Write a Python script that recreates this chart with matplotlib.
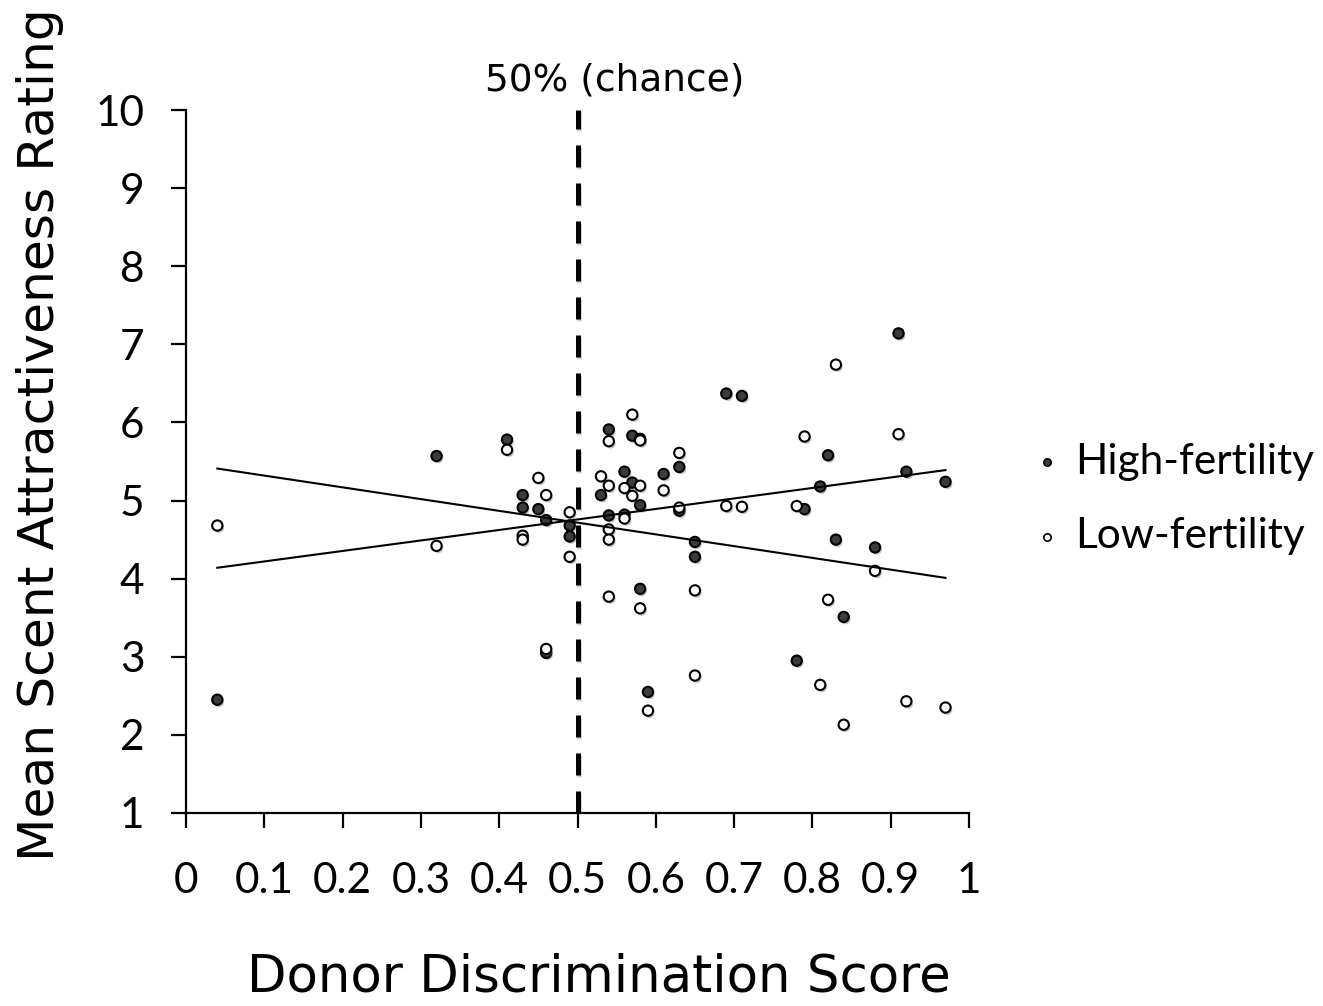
import matplotlib
matplotlib.use("Agg")
import matplotlib.pyplot as plt
import matplotlib.patheffects as pe
import numpy as np

# Donor discrimination score (x) and mean scent attractiveness rating (y)
high_x = [0.04, 0.32, 0.41, 0.43, 0.43, 0.45, 0.46, 0.46, 0.49, 0.49,
          0.53, 0.54, 0.54, 0.57, 0.58, 0.56, 0.57, 0.58, 0.56, 0.61,
          0.63, 0.63, 0.65, 0.65, 0.58, 0.59, 0.91, 0.69, 0.71, 0.82,
          0.92, 0.97, 0.81, 0.79, 0.83, 0.88, 0.84, 0.78]
high_y = [2.45, 5.57, 5.78, 5.07, 4.91, 4.89, 4.75, 3.05, 4.68, 4.54,
          5.07, 5.91, 4.81, 5.83, 5.79, 5.37, 5.23, 4.94, 4.82, 5.34,
          5.43, 4.87, 4.47, 4.28, 3.87, 2.55, 7.14, 6.37, 6.34, 5.58,
          5.37, 5.24, 5.18, 4.89, 4.50, 4.40, 3.51, 2.95]

low_x = [0.04, 0.32, 0.41, 0.45, 0.46, 0.43, 0.43, 0.46, 0.49, 0.49,
         0.53, 0.54, 0.54, 0.54, 0.54, 0.54, 0.57, 0.58, 0.56, 0.58,
         0.57, 0.56, 0.61, 0.63, 0.63, 0.65, 0.65, 0.58, 0.59, 0.83,
         0.79, 0.91, 0.69, 0.71, 0.78, 0.88, 0.82, 0.81, 0.92, 0.97, 0.84]
low_y = [4.68, 4.42, 5.65, 5.29, 5.07, 4.55, 4.50, 3.10, 4.85, 4.28,
         5.31, 5.76, 5.19, 4.63, 4.50, 3.77, 6.10, 5.77, 5.16, 5.19,
         5.06, 4.77, 5.13, 5.61, 4.91, 3.85, 2.76, 3.62, 2.31, 6.74,
         5.82, 5.85, 4.93, 4.92, 4.93, 4.10, 3.73, 2.64, 2.43, 2.35, 2.13]

# Linear trend lines (intercept, slope) and their x extent
high_fit = (4.086, 1.344)
low_fit = (5.47, -1.505)
fit_range = [0.04, 0.97]

chance_x = 0.5
x_ticks = [0, 0.1, 0.2, 0.3, 0.4, 0.5, 0.6, 0.7, 0.8, 0.9, 1]
x_tick_labels = ["0", "0.1", "0.2", "0.3", "0.4", "0.5", "0.6", "0.7", "0.8", "0.9", "1"]
y_ticks = list(range(1, 11))

fig = plt.figure(figsize=(13.23, 10.06), dpi=100)
ax = fig.add_axes([186 / 1323, 1 - 813 / 1006, 783 / 1323, 703 / 1006])

shadow = [pe.SimplePatchShadow(offset=(1.2, -1.6), shadow_rgbFace="0.35", alpha=0.35), pe.Normal()]

ax.scatter(high_x, high_y, s=55, facecolor="#3c3c3c", edgecolor="black",
           linewidths=1.5, zorder=3, path_effects=shadow)
ax.scatter(low_x, low_y, s=55, facecolor="white", edgecolor="black",
           linewidths=1.5, zorder=4, path_effects=shadow)

xs = np.array(fit_range)
for a, b in (high_fit, low_fit):
    ax.plot(xs, a + b * xs, color="black", lw=1.5, zorder=5)

ax.plot([chance_x, chance_x], [1, 10], color="black", lw=3.6,
        linestyle=(0, (4.4, 3.2)), zorder=2, dash_capstyle="butt",
        path_effects=[pe.SimpleLineShadow(offset=(1, -1.5), shadow_color="0.5", alpha=0.3), pe.Normal()])

ax.set_xlim(0, 1)
ax.set_ylim(1, 10)
for s in ("top", "right"):
    ax.spines[s].set_visible(False)
for s in ("left", "bottom"):
    ax.spines[s].set_linewidth(1.6)
    ax.spines[s].set_zorder(1)

ax.set_xticks(x_ticks)
ax.set_xticklabels(x_tick_labels, fontfamily="Lato", fontsize=30.5)
ax.set_yticks(y_ticks)
ax.set_yticklabels([str(v) for v in y_ticks], fontfamily="Lato", fontsize=30.5)
ax.tick_params(axis="both", direction="out", length=11, width=1.6, color="black")
ax.tick_params(axis="x", pad=24)
ax.tick_params(axis="y", pad=19)

fig.text(599 / 1323, 1 - 978 / 1006, "Donor Discrimination Score",
         fontfamily="DejaVu Sans", fontsize=37, ha="center", va="center")
fig.text(40 / 1323, 1 - 435 / 1006, "Mean Scent Attractiveness Rating",
         fontfamily="DejaVu Sans", fontsize=36.3, ha="center", va="center", rotation=90)
fig.text(615 / 1323, 1 - 80 / 1006, "50% (chance)",
         fontfamily="DejaVu Sans", fontsize=27, ha="center", va="center")

h1 = ax.scatter([], [], s=28, facecolor="#3c3c3c", edgecolor="black", linewidths=1.2)
h2 = ax.scatter([], [], s=28, facecolor="white", edgecolor="black", linewidths=1.2)
fig.legend([h1, h2], ["High-fertility", "Low-fertility"],
           loc="center left", bbox_to_anchor=(1036 / 1323, 1 - 499 / 1006),
           frameon=False, prop={"family": "Lato", "size": 30.5},
           borderpad=0, borderaxespad=0,
           handletextpad=0.42, labelspacing=0.87, handlelength=0.5)

fig.savefig("out.png", dpi=100, facecolor="white")
